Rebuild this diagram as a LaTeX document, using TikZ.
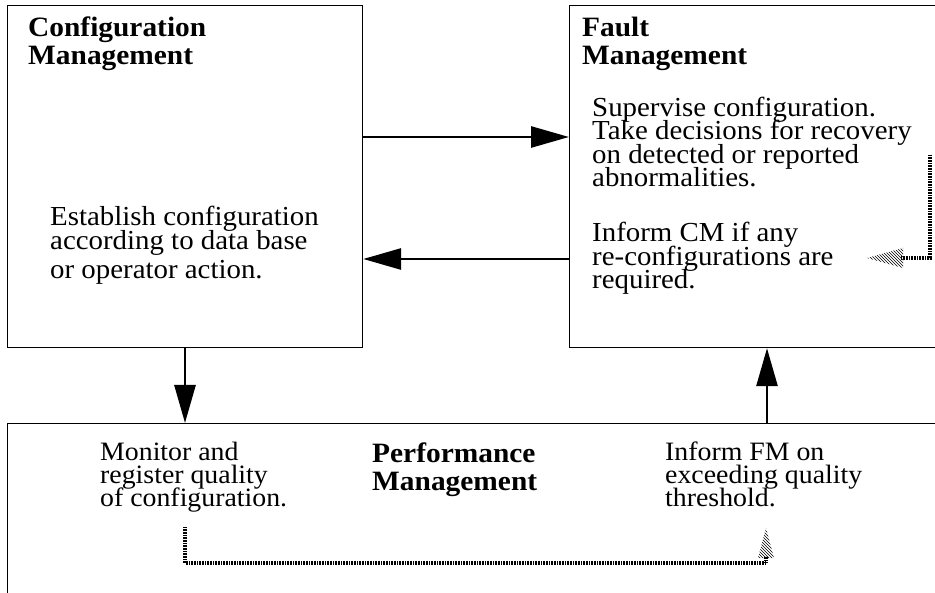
\documentclass[tikz,border=0pt]{standalone}
\usepackage{fontspec}
\setmainfont{Liberation Serif}[FakeStretch=1.05]
\usetikzlibrary{arrows.meta,calc,patterns}

% let lines sit closer than their glyphs would allow
\newcommand\squeezelines{\lineskiplimit=-30pt\relax}

\tikzset{
  mgmtbox/.style={draw, line width=1.2pt, inner sep=0pt, anchor=north west},
  boxtitle/.style={font=\fontsize{28}{28.5}\selectfont\bfseries\squeezelines, align=left, anchor=base west, inner sep=0pt},
  boxnote/.style={font=\fontsize{27.5}{23.6}\selectfont\squeezelines, align=left, anchor=base west, inner sep=0pt},
  tightnote/.style={boxnote, font=\fontsize{26.5}{23}\selectfont\squeezelines},
  flow/.style={-{Triangle[length=38pt,width=21pt]}, line width=2.8pt},
  hatchline/.style={line width=3.2pt, dash pattern=on 0.8pt off 0.8pt},
  hatchhead/.style={pattern=north west lines}
}

\begin{document}
\begin{tikzpicture}[x=1pt, y=-1pt]
  \clip (0,0) rectangle (935,593);
  % the three management areas
  \node[mgmtbox, minimum width=355pt, minimum height=342pt] (cm) at (7,5) {};
  \node[mgmtbox, minimum width=380pt, minimum height=342pt] (fm) at (569,5) {};
  \node[mgmtbox, minimum width=940pt, minimum height=200pt] (pm) at (7,423) {};

  % texts (placed at the baseline of their last line)
  \node[boxtitle] (cmtitle) at (28,65) {Configuration\\Management};
  \node[boxnote] (cmtext) at (50,279) {Establish configuration\\according to data base\\[6pt]or operator action.};
  \node[boxtitle] (fmtitle) at (582,65) {Fault\\Management};
  \node[boxnote] (fmsup) at (592,187) {Supervise configuration.\\Take decisions for recovery\\on detected or reported\\abnormalities.};
  \node[boxnote] (fminf) at (592,289) {Inform CM if any\\re-configurations are\\required.};
  \node[boxtitle] (pmtitle) at (372,491) {Performance\\Management};
  \node[tightnote] (pmmon) at (100,507) {Monitor and\\register quality\\of configuration.};
  \node[tightnote] (pminf) at (665,507) {Inform FM on\\exceeding quality\\threshold.};

  % flows between the areas
  \draw[flow] ($(cm.north east)+(0,132)$) -- ($(fm.north west)+(0,132)$);
  \draw[flow] ($(fm.north west)+(0,254)$) -- ($(cm.north east)+(0,254)$);
  \draw[flow] ($(cm.south west)+(178,0)$) -- ($(pm.north west)+(178,0)$);
  \draw[flow] ($(pm.north west)+(760,0)$) -- ($(fm.south west)+(198,0)$);

  % internal loops
  \coordinate (fmloop) at (930,155);
  \coordinate (fmtip) at (867,258);
  \draw[hatchline] (fmloop) |- ($(fmtip)+(34,0)$);
  \fill[hatchhead] (fmtip) -- ++(36,-10) -- ++(0,20) -- cycle;

  \coordinate (pmloop) at (185,527);
  \coordinate (pmtip) at (766,528);
  \draw[hatchline] (pmloop) -- ++(0,36) -| ($(pmtip)+(0,28)$);
  \fill[hatchhead] (pmtip) -- ++(-8,30) -- ++(16,0) -- cycle;
\end{tikzpicture}
\end{document}
